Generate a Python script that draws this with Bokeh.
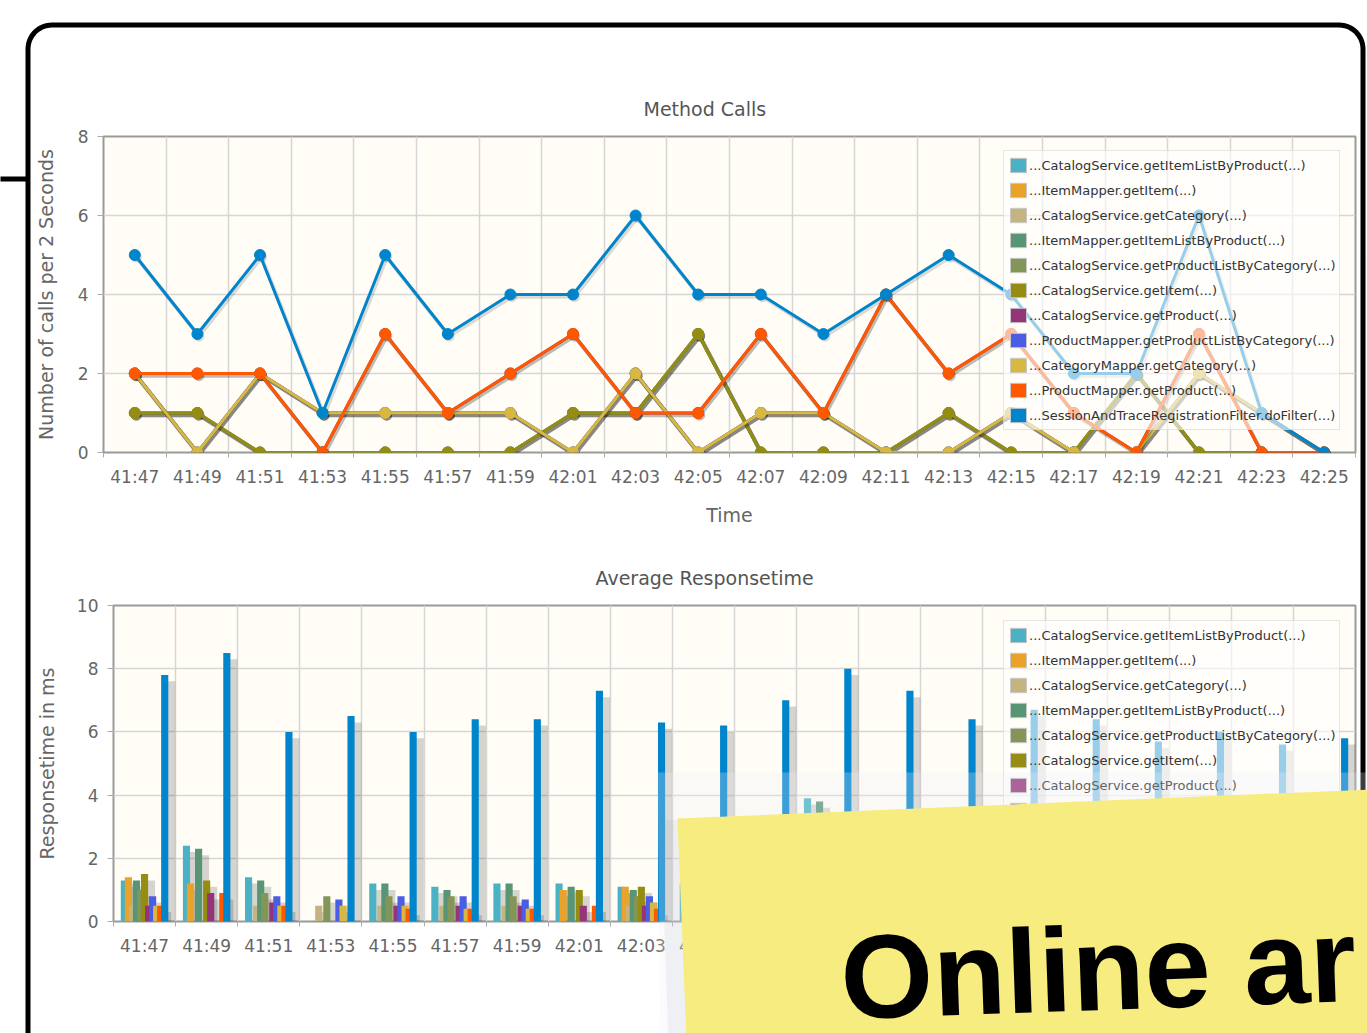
import numpy as np
from bokeh.plotting import figure
from bokeh.models import (ColumnDataSource, FixedTicker, Legend, LegendItem,
                          Range1d, GridBox)
from bokeh.transform import dodge
from bokeh.core.properties import value
from bokeh.embed import file_html
from bokeh.resources import INLINE

# ---------------- data ----------------
times = ["41:47", "41:49", "41:51", "41:53", "41:55", "41:57", "41:59", "42:01",
         "42:03", "42:05", "42:07", "42:09", "42:11", "42:13", "42:15", "42:17",
         "42:19", "42:21", "42:23", "42:25"]

series_names = [
    "...CatalogService.getItemListByProduct(...)",
    "...ItemMapper.getItem(...)",
    "...CatalogService.getCategory(...)",
    "...ItemMapper.getItemListByProduct(...)",
    "...CatalogService.getProductListByCategory(...)",
    "...CatalogService.getItem(...)",
    "...CatalogService.getProduct(...)",
    "...ProductMapper.getProductListByCategory(...)",
    "...CategoryMapper.getCategory(...)",
    "...ProductMapper.getProduct(...)",
    "...SessionAndTraceRegistrationFilter.doFilter(...)",
]
series_colors = ["#4bb2c5", "#eaa228", "#c5b47f", "#579575", "#839557", "#958c12",
                 "#953579", "#4b5de4", "#d8b83f", "#ff5800", "#0085cc"]

# Method calls per 2 seconds
calls_catalog_itemlist = [1, 1, 0, 0, 0, 0, 0, 1, 1, 3, 0, 0, 0, 1, 0, 0, 2, 0, 0, 0]
calls_itemmapper_item = [1, 1, 0, 0, 0, 0, 0, 1, 1, 3, 0, 0, 0, 1, 0, 0, 2, 0, 0, 0]
calls_catalog_category = [2, 0, 2, 1, 1, 1, 1, 0, 2, 0, 1, 1, 0, 0, 1, 0, 0, 2, 1, 0]
calls_itemmapper_itemlist = [1, 1, 0, 0, 0, 0, 0, 1, 1, 3, 0, 0, 0, 1, 0, 0, 2, 0, 0, 0]
calls_catalog_prodlist = [2, 0, 2, 1, 1, 1, 1, 0, 2, 0, 1, 1, 0, 0, 1, 0, 0, 2, 1, 0]
calls_catalog_item = [1, 1, 0, 0, 0, 0, 0, 1, 1, 3, 0, 0, 0, 1, 0, 0, 2, 0, 0, 0]
calls_catalog_product = [2, 2, 2, 0, 3, 1, 2, 3, 1, 1, 3, 1, 4, 2, 3, 1, 0, 3, 0, 0]
calls_prodmapper_prodlist = [2, 0, 2, 1, 1, 1, 1, 0, 2, 0, 1, 1, 0, 0, 1, 0, 0, 2, 1, 0]
calls_catmapper_category = [2, 0, 2, 1, 1, 1, 1, 0, 2, 0, 1, 1, 0, 0, 1, 0, 0, 2, 1, 0]
calls_prodmapper_product = [2, 2, 2, 0, 3, 1, 2, 3, 1, 1, 3, 1, 4, 2, 3, 1, 0, 3, 0, 0]
calls_filter = [5, 3, 5, 1, 5, 3, 4, 4, 6, 4, 4, 3, 4, 5, 4, 2, 2, 6, 1, 0]

# Average response time in ms
resp_catalog_itemlist = [1.3, 2.4, 1.4, 0, 1.2, 1.1, 1.2, 1.2, 1.1, 1.2, 1.1, 3.9, 1.2, 1.1, 1.2, 1.1, 1.2, 1.1, 1.2, 1.1]
resp_itemmapper_item = [1.4, 1.2, 0, 0, 0, 0, 0, 1.0, 1.1, 1.0, 0, 1.1, 0, 1.0, 0, 0, 1.0, 0, 0, 0]
resp_catalog_category = [0.5, 0, 0.5, 0.5, 0.5, 0.5, 0.5, 0, 0.5, 0, 0.5, 0.5, 0, 0, 0.5, 0, 0, 0.5, 0.5, 0]
resp_itemmapper_itemlist = [1.3, 2.3, 1.3, 0, 1.2, 1.0, 1.2, 1.1, 1.0, 1.1, 1.0, 3.8, 1.1, 1.0, 1.1, 1.0, 1.1, 1.0, 1.1, 1.0]
resp_catalog_prodlist = [1.0, 0, 0.9, 0.8, 0.8, 0.8, 0.8, 0, 0.8, 0, 0.8, 0.9, 0, 0, 0.8, 0, 0, 0.8, 0.8, 0]
resp_catalog_item = [1.5, 1.3, 0, 0, 0, 0, 0, 1.0, 1.1, 1.0, 0, 0, 0, 1.0, 0, 0, 1.1, 0, 0, 0]
resp_catalog_product = [0.5, 0.9, 0.6, 0, 0.5, 0.5, 0.5, 0.5, 0.5, 0.5, 0.5, 0.5, 0.6, 0.5, 0.5, 0.5, 0, 0.5, 0, 0]
resp_prodmapper_prodlist = [0.8, 0, 0.8, 0.7, 0.8, 0.8, 0.7, 0, 0.8, 0, 0.7, 0.8, 0, 0, 0.8, 0, 0, 0.7, 0.8, 0]
resp_catmapper_category = [0.5, 0, 0.5, 0.5, 0.5, 0.4, 0.4, 0, 0.6, 0, 0.5, 0.5, 0, 0, 0.5, 0, 0, 0.5, 0.4, 0]
resp_prodmapper_product = [0.5, 0.9, 0.5, 0, 0.4, 0.4, 0.4, 0.5, 0.4, 0.5, 0.4, 0.5, 0.5, 0.4, 0.5, 0.4, 0, 0.5, 0, 0]
resp_filter = [7.8, 8.5, 6.0, 6.5, 6.0, 6.4, 6.4, 7.3, 6.3, 6.2, 7.0, 8.0, 7.3, 6.4, 6.7, 6.4, 5.7, 6.0, 5.6, 5.8]

calls_series = [calls_catalog_itemlist, calls_itemmapper_item, calls_catalog_category,
                calls_itemmapper_itemlist, calls_catalog_prodlist, calls_catalog_item,
                calls_catalog_product, calls_prodmapper_prodlist, calls_catmapper_category,
                calls_prodmapper_product, calls_filter]
resp_series = [resp_catalog_itemlist, resp_itemmapper_item, resp_catalog_category,
               resp_itemmapper_itemlist, resp_catalog_prodlist, resp_catalog_item,
               resp_catalog_product, resp_prodmapper_prodlist, resp_catmapper_category,
               resp_prodmapper_product, resp_filter]

calls_ticks = [0, 2, 4, 6, 8]
resp_ticks = [0, 2, 4, 6, 8, 10]

note_text = "Online ar"

# ---------------- styling helpers ----------------
FONT = "DejaVu Sans"
W = 1367
H_TOP, H_BOT = 545, 488
n = len(times)
x_idx = list(range(n))
label_map = {i: t for i, t in enumerate(times)}


def no_align(p):
    try:
        p.frame_align = False
    except Exception:
        pass


def make_fig(height, ymax, yticks, title, title_offset, title_standoff, ylabel, xlabel,
             left, top, bottom, ylabel_standoff):
    p = figure(width=W, height=height,
               x_range=Range1d(-0.5, n - 0.5), y_range=Range1d(0, ymax),
               output_backend="svg", toolbar_location=None,
               min_border_left=left, min_border_right=12,
               min_border_top=top, min_border_bottom=bottom,
               background_fill_color="#fffdf6", border_fill_color="white",
               outline_line_color="#9a9a9a", outline_line_width=2)
    no_align(p)
    p.title.text = title
    p.title.align = "left"
    p.title.offset = title_offset
    p.title.standoff = title_standoff
    p.title.text_font = FONT
    p.title.text_font_size = "19px"
    p.title.text_font_style = "normal"
    p.title.text_color = "#555555"

    xa = p.xaxis[0]
    xa.ticker = FixedTicker(ticks=x_idx, minor_ticks=[i - 0.5 for i in range(n + 1)])
    xa.major_label_overrides = label_map
    xa.major_tick_out = 0
    xa.major_tick_in = 0
    xa.minor_tick_out = 5
    xa.minor_tick_in = 0
    xa.minor_tick_line_color = "#aaaaaa"
    xa.axis_line_color = None
    xa.major_label_standoff = 9
    xa.major_label_text_font = FONT
    xa.major_label_text_font_size = "17px"
    xa.major_label_text_color = "#666666"
    if xlabel:
        xa.axis_label = xlabel
        xa.axis_label_text_font = FONT
        xa.axis_label_text_font_size = "19px"
        xa.axis_label_text_font_style = "normal"
        xa.axis_label_text_color = "#666666"
        xa.axis_label_standoff = 14

    ya = p.yaxis[0]
    ya.ticker = FixedTicker(ticks=yticks)
    ya.major_tick_out = 6
    ya.major_tick_in = 0
    ya.major_tick_line_color = "#aaaaaa"
    ya.minor_tick_line_color = None
    ya.axis_line_color = None
    ya.major_label_standoff = 9
    ya.major_label_text_font = FONT
    ya.major_label_text_font_size = "17px"
    ya.major_label_text_color = "#666666"
    ya.axis_label = ylabel
    ya.axis_label_text_font = FONT
    ya.axis_label_text_font_size = "19px"
    ya.axis_label_text_font_style = "normal"
    ya.axis_label_text_color = "#666666"
    ya.axis_label_standoff = ylabel_standoff

    p.xgrid.ticker = FixedTicker(ticks=[i - 0.5 for i in range(n + 1)])
    p.ygrid.ticker = FixedTicker(ticks=yticks)
    for g in (p.xgrid[0], p.ygrid[0]):
        g.grid_line_color = "#d6d6d6"
        g.grid_line_width = 1.5
    return p


def add_legend(p, x_loc, y_loc):
    items = []
    for name, color in zip(series_names, series_colors):
        # legend swatch proxy, kept outside the visible ranges
        r = p.quad(left=[-5], right=[-4], top=[-5], bottom=[-6], fill_color=color,
                   line_color="#c8c8c8", line_width=1)
        items.append(LegendItem(label=name, renderers=[r]))
    leg = Legend(items=items, location=(x_loc, y_loc),
                 label_text_font=FONT, label_text_font_size="13px",
                 label_text_color="#333333",
                 glyph_width=20, glyph_height=18, label_height=20,
                 label_standoff=1, spacing=5, padding=4, margin=0,
                 background_fill_color="white", background_fill_alpha=0.6,
                 border_line_color="#cccccc", border_line_width=1)
    p.add_layout(leg)


# ---------------- top chart: method calls ----------------
p1 = make_fig(H_TOP, 8, calls_ticks, "Method Calls", 540, 33,
              "Number of calls per 2 Seconds", "Time",
              left=103, top=136, bottom=93, ylabel_standoff=18)

for color, vals in zip(series_colors, calls_series):
    src = ColumnDataSource(dict(x=x_idx, y=vals))
    p1.line(x=dodge("x", 0.025), y=dodge("y", -0.055), source=src,
            line_color="black", line_alpha=0.14, line_width=4)
    p1.scatter(x=dodge("x", 0.025), y=dodge("y", -0.055), source=src,
               size=11, fill_color="black", fill_alpha=0.14, line_color=None)
    p1.line(x="x", y="y", source=src, line_color=color, line_width=3)
    p1.scatter(x="x", y="y", source=src, size=11, fill_color=color,
               line_color=color)

add_legend(p1, 900, 22)

# ---------------- bottom chart: response time ----------------
p2 = make_fig(H_BOT, 10, resp_ticks, "Average Responsetime", 482, 33,
              "Responsetime in ms", None,
              left=113, top=60, bottom=112, ylabel_standoff=16)

for k, (color, vals) in enumerate(zip(series_colors, resp_series)):
    off = (k - 5) * 0.065
    src = ColumnDataSource(dict(x=x_idx, top=vals))
    p2.vbar(x=dodge("x", off + 0.09), top=dodge("top", -0.2), bottom=0, width=0.16,
            source=src, fill_color="black", fill_alpha=0.16, line_color=None)
    p2.vbar(x=dodge("x", off), top="top", bottom=0, width=0.115, source=src,
            fill_color=color, line_color=None)

add_legend(p2, 890, 21)

# ---------------- transparent overlay: slide frame and sticky note ----------------
ov = figure(width=W, height=H_TOP + H_BOT, x_range=Range1d(0, W),
            y_range=Range1d(H_TOP + H_BOT, 0), output_backend="svg",
            toolbar_location=None, min_border=0,
            x_axis_location=None, y_axis_location=None,
            background_fill_color=None, border_fill_color=None,
            outline_line_color=None)
no_align(ov)
ov.grid.visible = False

R = 24
t1 = np.linspace(np.pi, 1.5 * np.pi, 14)
t2 = np.linspace(1.5 * np.pi, 2 * np.pi, 14)
fl, ft, fr = 27.5, 24.5, 1362.5
frame_x = [fl, fl] + list(fl + R + R * np.cos(t1)) + list(fr - R + R * np.cos(t2)) + [fr]
frame_y = [1045, ft + R] + list(ft + R + R * np.sin(t1)) + list(ft + R + R * np.sin(t2)) + [1045]
ov.line(frame_x, frame_y, line_color="black", line_width=5, line_join="round")
ov.line([-5, fl], [178.5, 178.5], line_color="black", line_width=5)

ov.patch([657, 1370, 1370, 660], [772, 772, 1040, 1040],
         fill_color="#eef1f7", fill_alpha=0.25, line_color=None)
ov.patch([660, 1370, 1370, 668], [820, 790, 1040, 1040],
         fill_color="#8a94a8", fill_alpha=0.10, line_color=None)
ov.patch([677, 1370, 1370, 686], [818, 789, 1040, 1040],
         fill_color="#f7ec80", fill_alpha=1, line_color=None)
ov.text(x=[840], y=[977], text=[note_text], angle=0.035,
        text_font=value("Liberation Sans"), text_font_style="bold",
        text_font_size="119px", text_color="black", text_baseline="alphabetic")

layout = GridBox(children=[(p1, 0, 0), (p2, 1, 0), (ov, 0, 0, 2, 1)], spacing=0)
open("out.html", "w").write(file_html(layout, INLINE))
